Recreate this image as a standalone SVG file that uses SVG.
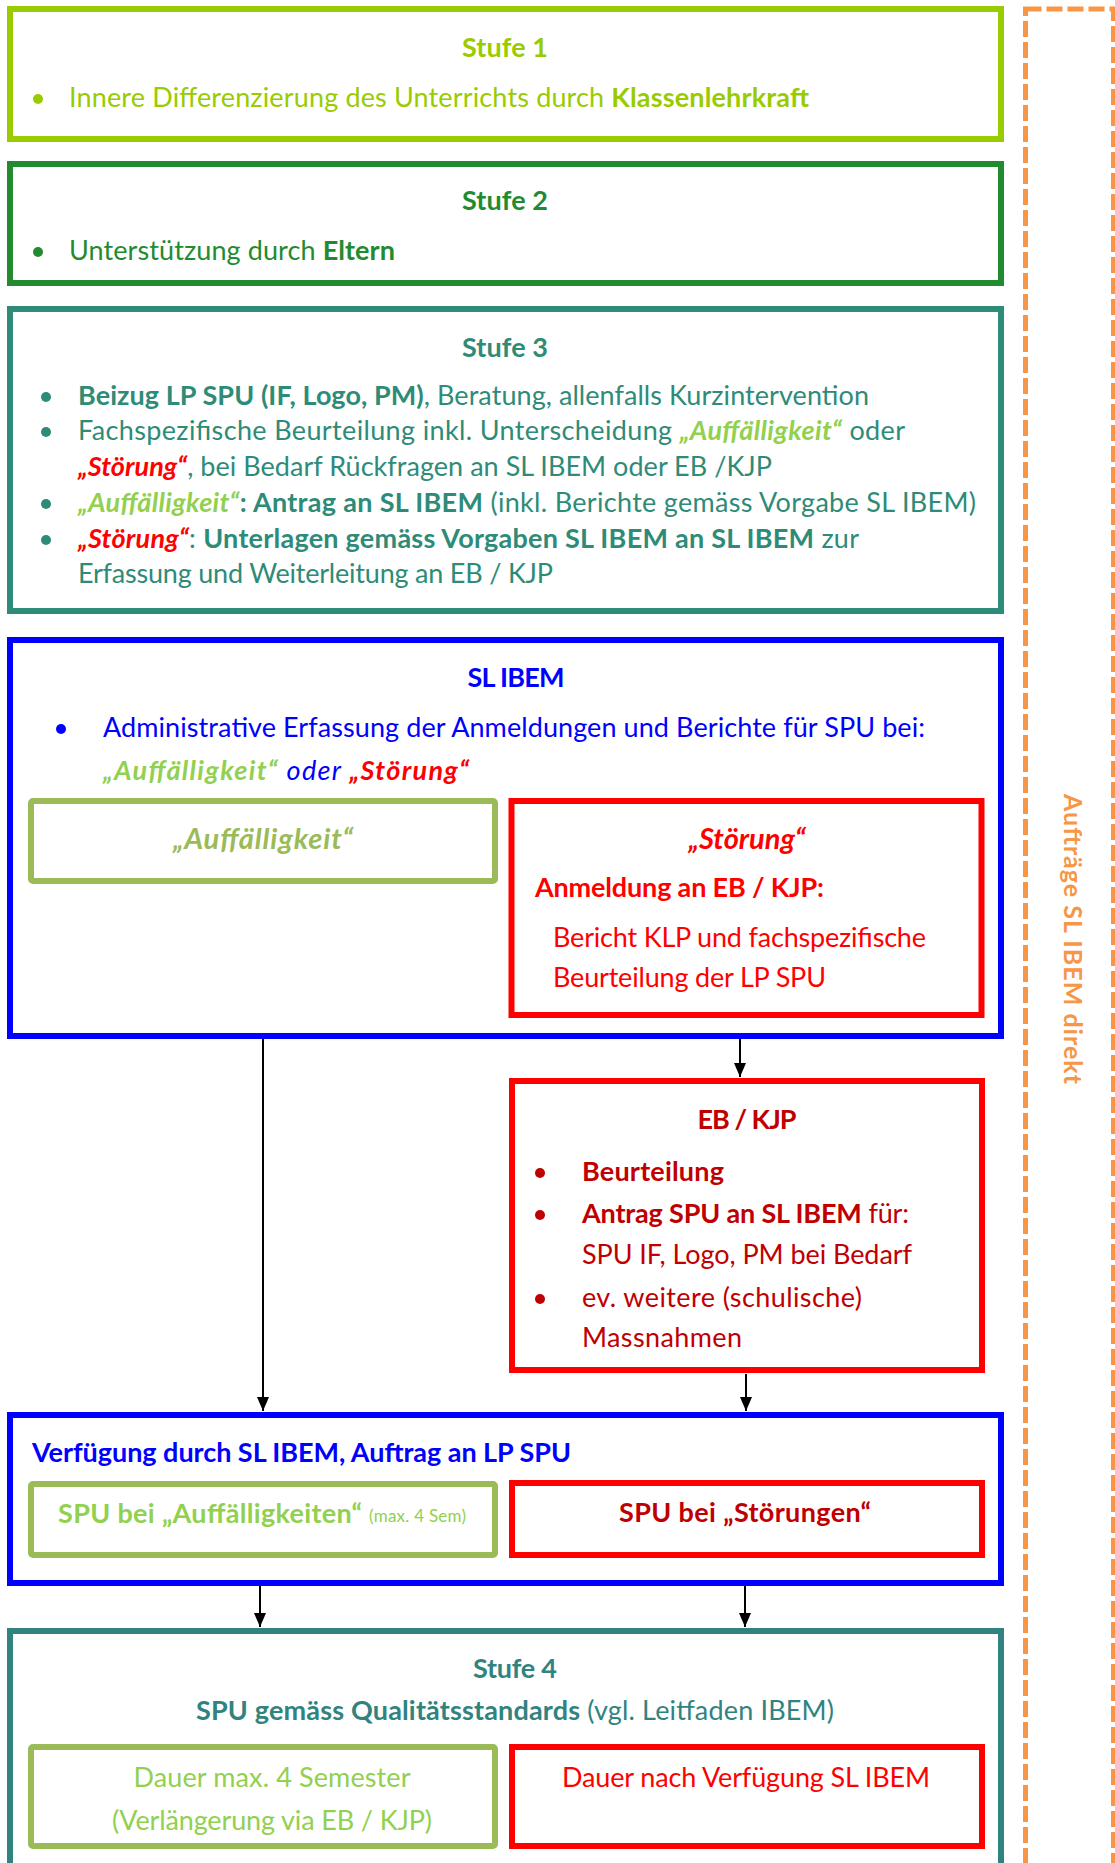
<svg xmlns="http://www.w3.org/2000/svg" width="1115" height="1863" viewBox="0 0 1115 1863">
<defs>
<style>
text{font-family:Lato,"Liberation Sans",sans-serif;font-size:27px}
.b{font-weight:bold}.i{font-style:italic}
.c{text-anchor:middle}
.sm{font-size:17px}.vt{font-size:25px}.lgh{font-size:29px}
.box{fill:none;stroke-width:6}
.g1{fill:#99CC00}.g2{fill:#238B2F}.g3{fill:#2E8B78}.g4{fill:#31837F}
.lg{fill:#92D050}.ol{fill:#9BBB59}.rd{fill:#FF0000}.dr{fill:#C00000}.bl{fill:#0000FF}
.con{stroke:#000;stroke-width:2;fill:none}
</style>
<marker id="ahd" markerUnits="userSpaceOnUse" markerWidth="16" markerHeight="14" refX="15" refY="7" orient="auto" viewBox="0 0 16 14">
<path d="M1,1 L15,7 L1,13 Z" fill="#000"/>
</marker>
</defs>
<rect width="1115" height="1863" fill="#fff"/>

<g id="auftraege">
<rect x="1025.5" y="9" width="88" height="1900" fill="none" stroke="#F79646" stroke-width="5" stroke-dasharray="16 5"/>
<text class="b vt" fill="#F79646" textLength="290" transform="translate(1064,939) rotate(90)" text-anchor="middle">Aufträge SL IBEM direkt</text>
</g>

<g id="stufe1">
<rect class="box" x="10" y="9" width="991" height="130" stroke="#99CC00"/>
<text class="b c g1" x="505" y="57" textLength="86">Stufe 1</text>
<circle cx="38" cy="99" r="5" fill="#99CC00"/>
<text class="g1" x="69" y="107" textLength="740">Innere Differenzierung des Unterrichts durch <tspan class="b">Klassenlehrkraft</tspan></text>
</g>

<g id="stufe2">
<rect class="box" x="10" y="164" width="991" height="119" stroke="#238B2F"/>
<text class="b c g2" x="505" y="210" textLength="86">Stufe 2</text>
<circle cx="38" cy="252" r="5" fill="#238B2F"/>
<text class="g2" x="69" y="260" textLength="326">Unterstützung durch <tspan class="b">Eltern</tspan></text>
</g>

<g id="stufe3">
<rect class="box" x="10" y="309" width="991" height="302" stroke="#2E8B78"/>
<text class="b c g3" x="505" y="357" textLength="86">Stufe 3</text>
<circle cx="46" cy="397" r="5" fill="#2E8B78"/>
<circle cx="46" cy="432" r="5" fill="#2E8B78"/>
<circle cx="46" cy="504" r="5" fill="#2E8B78"/>
<circle cx="46" cy="540" r="5" fill="#2E8B78"/>
<text class="g3" x="78" y="405" textLength="791"><tspan class="b">Beizug LP SPU (IF, Logo, PM)</tspan>, Beratung, allenfalls Kurzintervention</text>
<text class="g3" x="78" y="440" textLength="827">Fachspezifische Beurteilung inkl. Unterscheidung <tspan class="b i lg">„Auffälligkeit“</tspan> oder</text>
<text class="g3" x="78" y="476" textLength="694"><tspan class="b i rd">„Störung“</tspan>, bei Bedarf Rückfragen an SL IBEM oder EB /KJP</text>
<text class="g3" x="78" y="512" textLength="898"><tspan class="b i lg">„Auffälligkeit“</tspan><tspan class="b">: Antrag an SL IBEM</tspan> (inkl. Berichte gemäss Vorgabe SL IBEM)</text>
<text class="g3" x="78" y="548" textLength="781"><tspan class="b i rd">„Störung“</tspan>: <tspan class="b">Unterlagen gemäss Vorgaben SL IBEM an SL IBEM</tspan> zur</text>
<text class="g3" x="78" y="583" textLength="475">Erfassung und Weiterleitung an EB / KJP</text>
</g>

<g id="sl-ibem">
<rect class="box" x="10" y="640" width="991" height="396" stroke="#0000FF"/>
<text class="b c bl" x="516" y="687" textLength="97">SL IBEM</text>
<circle cx="61" cy="729" r="5" fill="#0000FF"/>
<text class="bl" x="103" y="737" textLength="822">Administrative Erfassung der Anmeldungen und Berichte für SPU bei:</text>
<text class="i" x="103" y="780" textLength="366"><tspan class="b lg">„Auffälligkeit“</tspan><tspan class="bl"> oder </tspan><tspan class="b rd">„Störung“</tspan></text>
</g>

<g id="auffaelligkeit">
<rect class="box" x="31" y="801" width="464" height="80" rx="2" stroke="#9BBB59"/>
<text class="b i c ol lgh" x="263" y="849" textLength="180">„Auffälligkeit“</text>
</g>

<g id="stoerung">
<rect class="box" x="511.5" y="801" width="470" height="214" stroke="#FF0000" stroke-width="7"/>
<text class="b i c rd lgh" x="747" y="849">„Störung“</text>
<text class="b rd" x="535" y="897" textLength="289">Anmeldung an EB / KJP:</text>
<text class="rd" x="553" y="947" textLength="373">Bericht KLP und fachspezifische</text>
<text class="rd" x="553" y="987" textLength="273">Beurteilung der LP SPU</text>
</g>

<g id="eb-kjp">
<rect class="box" x="512" y="1081" width="470" height="289" stroke="#FF0000" stroke-width="7"/>
<text class="b c dr" x="747" y="1129" textLength="99">EB / KJP</text>
<circle cx="540" cy="1173" r="5" fill="#C00000"/>
<circle cx="540" cy="1215" r="5" fill="#C00000"/>
<circle cx="540" cy="1299" r="5" fill="#C00000"/>
<text class="b dr" x="582" y="1181" textLength="142">Beurteilung</text>
<text class="dr" x="582" y="1223" textLength="327"><tspan class="b">Antrag SPU an SL IBEM</tspan> für:</text>
<text class="dr" x="582" y="1264" textLength="330">SPU IF, Logo, PM bei Bedarf</text>
<text class="dr" x="582" y="1307" textLength="280">ev. weitere (schulische)</text>
<text class="dr" x="582" y="1347" textLength="160">Massnahmen</text>
</g>

<g id="verfuegung">
<rect class="box" x="10" y="1415" width="991" height="168" stroke="#0000FF"/>
<text class="b bl" x="32" y="1462" textLength="539">Verfügung durch SL IBEM, Auftrag an LP SPU</text>
</g>

<g id="spu-auffaelligkeiten">
<rect class="box" x="31" y="1484" width="464" height="71" rx="2" stroke="#9BBB59"/>
<text class="b lg" x="58" y="1523" textLength="304">SPU bei „Auffälligkeiten“</text>
<text class="lg sm" x="369" y="1522" textLength="97">(max. 4 Sem)</text>
</g>

<g id="spu-stoerungen">
<rect class="box" x="512" y="1483" width="470" height="72" stroke="#FF0000" stroke-width="7"/>
<text class="b c dr" x="745" y="1522" textLength="252">SPU bei „Störungen“</text>
</g>

<g id="stufe4">
<rect class="box" x="10" y="1631" width="991" height="280" stroke="#31837F"/>
<text class="b c g4" x="515" y="1678" textLength="84">Stufe 4</text>
<text class="c g4" x="515" y="1720" textLength="638"><tspan class="b">SPU gemäss Qualitätsstandards</tspan> (vgl. Leitfaden IBEM)</text>
</g>

<g id="dauer-auffaelligkeit">
<rect class="box" x="31" y="1747" width="464" height="99" rx="2" stroke="#9BBB59"/>
<text class="c lg" x="272" y="1787" textLength="277">Dauer max. 4 Semester</text>
<text class="c lg" x="272" y="1830" textLength="320">(Verlängerung via EB / KJP)</text>
</g>

<g id="dauer-stoerung">
<rect class="box" x="512" y="1747" width="470" height="99" stroke="#FF0000" stroke-width="7"/>
<text class="c rd" x="746" y="1787" textLength="368">Dauer nach Verfügung SL IBEM</text>
</g>

<g id="connectors">
<path class="con" d="M263 1039 V1411" marker-end="url(#ahd)"/>
<path class="con" d="M740 1039 V1077" marker-end="url(#ahd)"/>
<path class="con" d="M746 1374 V1411" marker-end="url(#ahd)"/>
<path class="con" d="M260 1586 V1627" marker-end="url(#ahd)"/>
<path class="con" d="M745 1586 V1627" marker-end="url(#ahd)"/>
</g>
</svg>
